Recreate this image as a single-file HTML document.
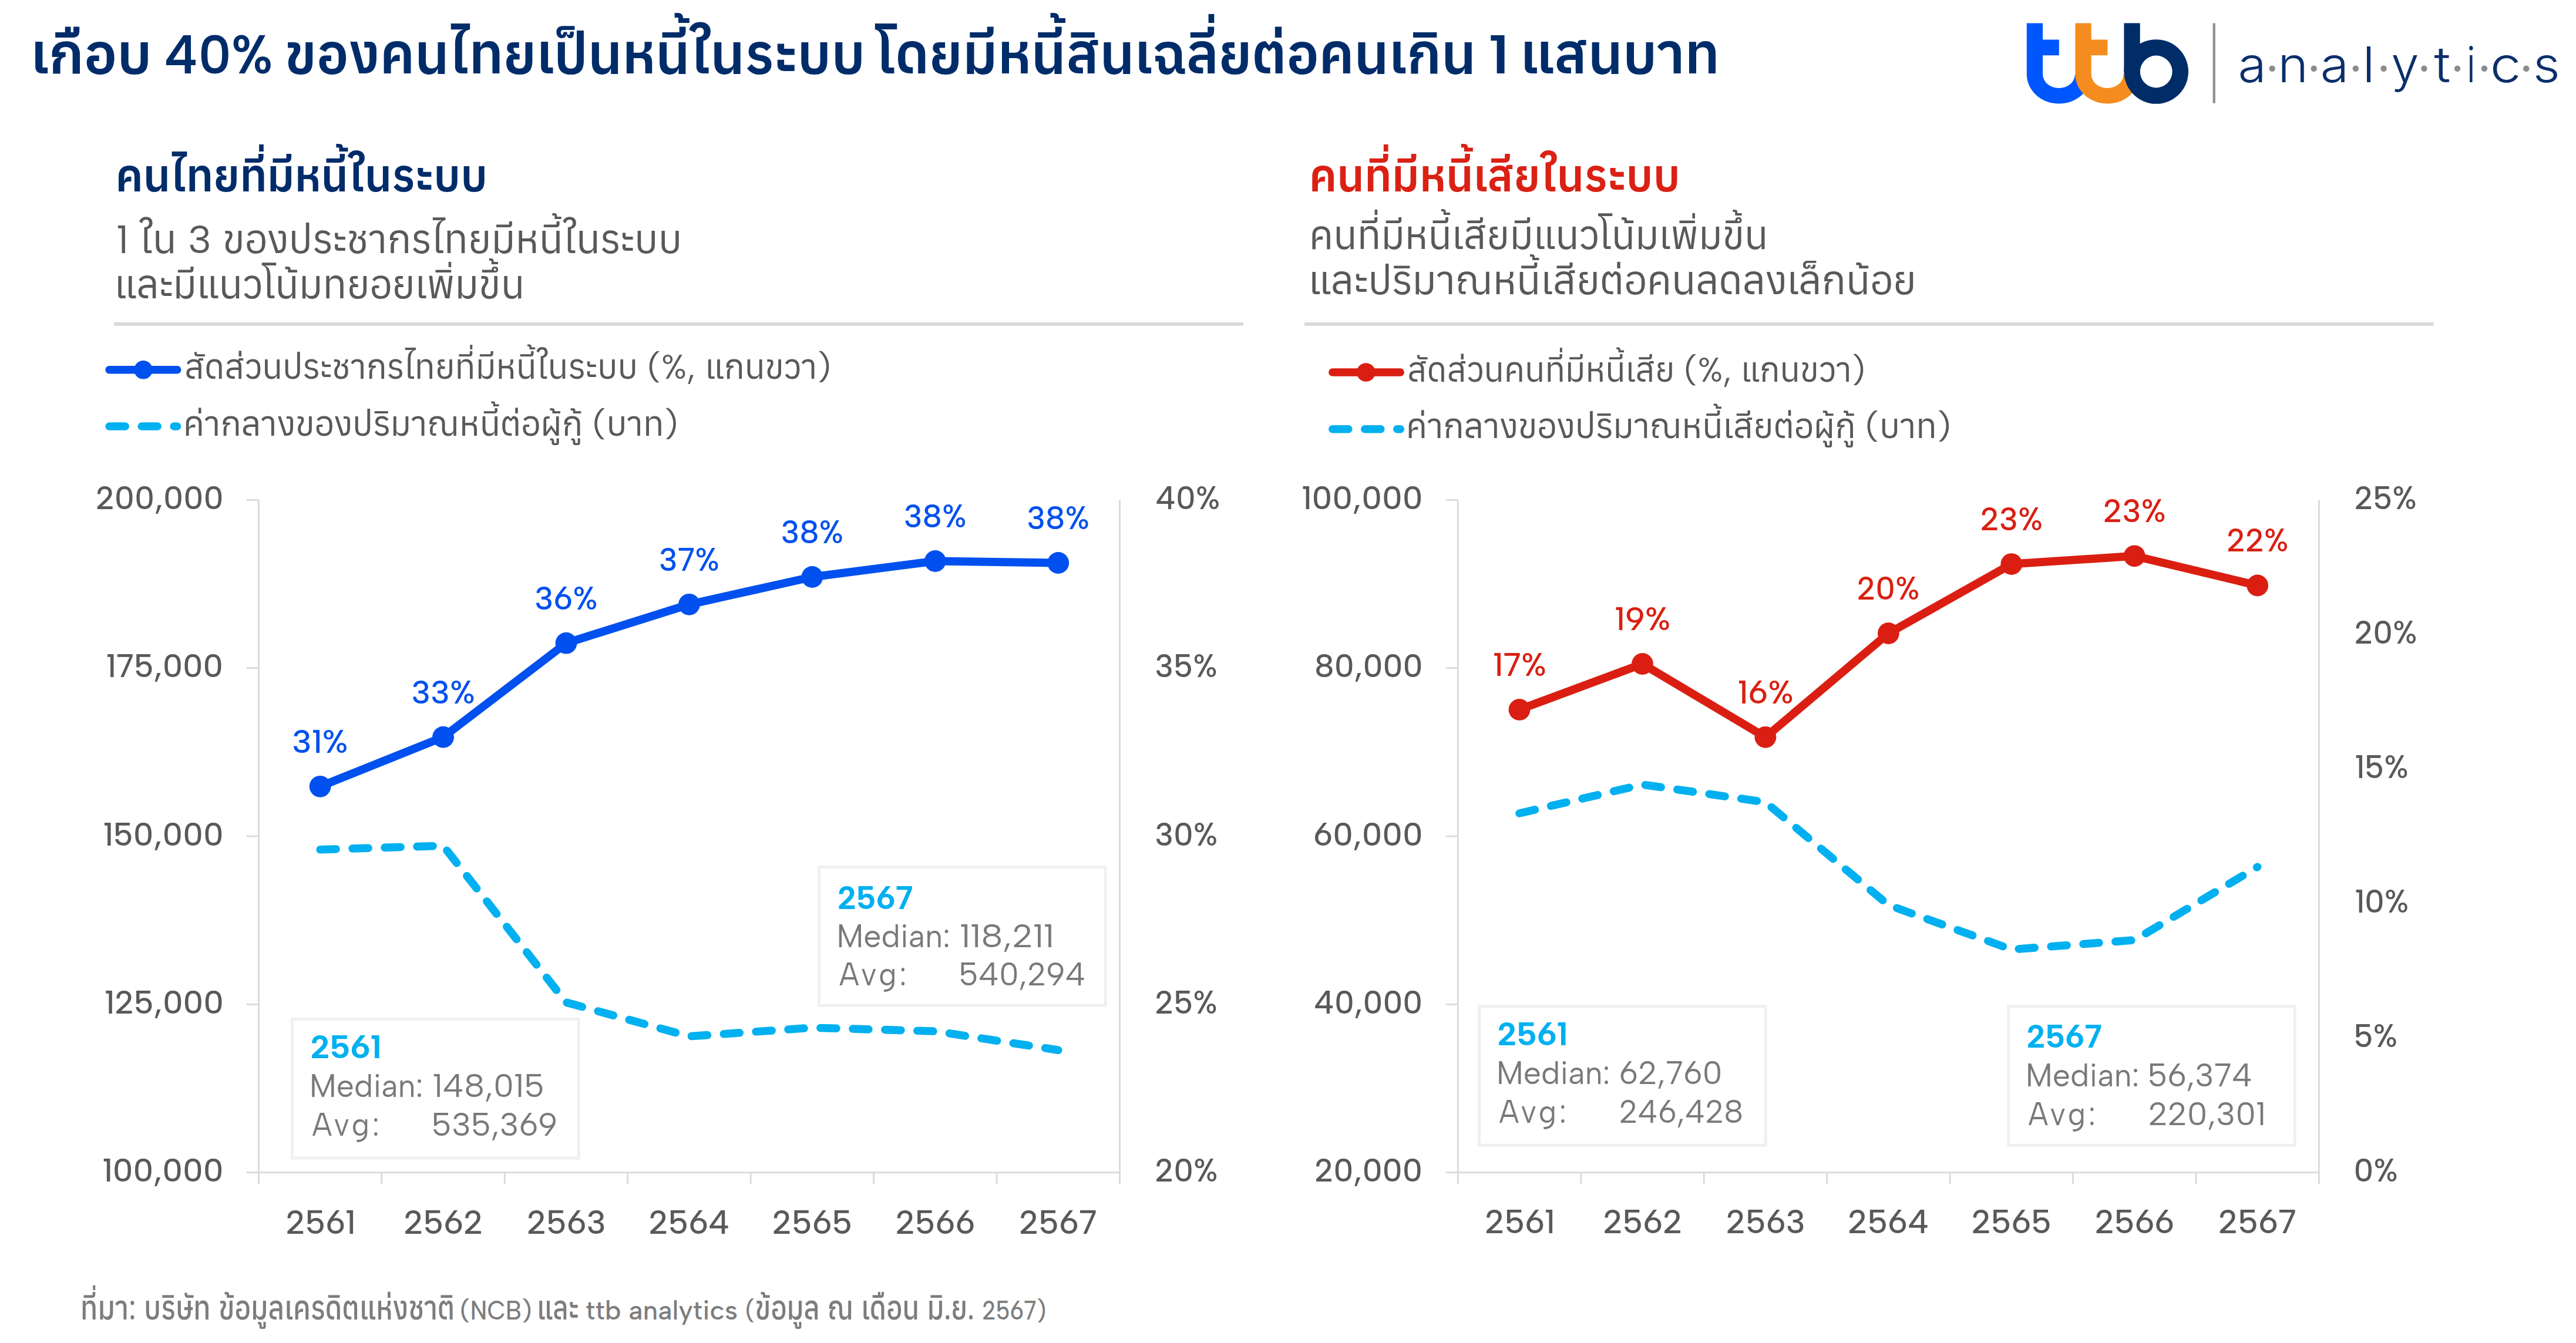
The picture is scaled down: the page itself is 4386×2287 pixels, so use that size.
<!DOCTYPE html>
<html lang="th"><head><meta charset="utf-8"><title>ttb analytics</title>
<style>
html,body{margin:0;padding:0;background:#fff;}
body{width:4386px;height:2287px;position:relative;overflow:hidden;}
.t{position:absolute;white-space:pre;line-height:1;transform-origin:0 0;}
</style></head><body>
<svg width="4386" height="2287" viewBox="0 0 4386 2287" style="position:absolute;left:0;top:0"><rect x="194" y="549" width="1922.80" height="5.8" fill="#d9d9d9"/><rect x="2221" y="549" width="1922.80" height="5.8" fill="#d9d9d9"/><path d="M440.40 851.40V1996.60M419.90 1996.60H1906.50M1906.50 851.40V1996.60M419.90 851.40H440.40M419.90 1137.70H440.40M419.90 1424.00H440.40M419.90 1710.30H440.40M419.90 1996.60H440.40M440.40 1996.60V2016.80M649.84 1996.60V2016.80M859.29 1996.60V2016.80M1068.73 1996.60V2016.80M1278.17 1996.60V2016.80M1487.61 1996.60V2016.80M1697.06 1996.60V2016.80M1906.50 1996.60V2016.80" stroke="#d9d9d9" stroke-width="2.75" fill="none"/><path d="M2482.30 851.40V1996.60M2461.80 1996.60H3948.40M3948.40 851.40V1996.60M2461.80 851.40H2482.30M2461.80 1137.70H2482.30M2461.80 1424.00H2482.30M2461.80 1710.30H2482.30M2461.80 1996.60H2482.30M2482.30 1996.60V2016.80M2691.74 1996.60V2016.80M2901.19 1996.60V2016.80M3110.63 1996.60V2016.80M3320.07 1996.60V2016.80M3529.51 1996.60V2016.80M3738.96 1996.60V2016.80M3948.40 1996.60V2016.80" stroke="#d9d9d9" stroke-width="2.75" fill="none"/><rect x="497.60" y="1735.60" width="487.60" height="236.60" fill="#fff" stroke="#f0f0f0" stroke-width="5"/><rect x="1394.60" y="1476.60" width="487.50" height="235.60" fill="#fff" stroke="#f0f0f0" stroke-width="5"/><rect x="2518.60" y="1713.60" width="487.60" height="236.60" fill="#fff" stroke="#f0f0f0" stroke-width="5"/><rect x="3419.70" y="1713.60" width="487.50" height="236.60" fill="#fff" stroke="#f0f0f0" stroke-width="5"/><polyline points="545.12,1446.80 754.56,1440.20 964.01,1707.00 1173.45,1764.80 1382.89,1750.10 1592.34,1756.10 1801.78,1788.20" fill="none" stroke="#00b0f0" stroke-width="13.6" stroke-dasharray="27 28" stroke-linecap="round" stroke-linejoin="round"/><polyline points="2587.02,1385.00 2796.46,1336.00 3005.91,1366.00 3215.35,1541.20 3424.79,1616.90 3634.24,1600.90 3843.68,1476.30" fill="none" stroke="#00b0f0" stroke-width="13.6" stroke-dasharray="27 28" stroke-linecap="round" stroke-linejoin="round"/><polyline points="545.12,1339.30 754.56,1255.20 964.01,1095.20 1173.45,1029.30 1382.89,982.50 1592.34,955.50 1801.78,958.50" fill="none" stroke="#0050ef" stroke-width="14" stroke-linejoin="round"/><polyline points="2587.02,1208.40 2796.46,1130.50 3005.91,1255.30 3215.35,1078.50 3424.79,960.60 3634.24,946.80 3843.68,997.00" fill="none" stroke="#da1f12" stroke-width="14" stroke-linejoin="round"/><circle cx="545.12" cy="1339.30" r="18.4" fill="#0050ef"/><circle cx="754.56" cy="1255.20" r="18.4" fill="#0050ef"/><circle cx="964.01" cy="1095.20" r="18.4" fill="#0050ef"/><circle cx="1173.45" cy="1029.30" r="18.4" fill="#0050ef"/><circle cx="1382.89" cy="982.50" r="18.4" fill="#0050ef"/><circle cx="1592.34" cy="955.50" r="18.4" fill="#0050ef"/><circle cx="1801.78" cy="958.50" r="18.4" fill="#0050ef"/><circle cx="2587.02" cy="1208.40" r="18.4" fill="#da1f12"/><circle cx="2796.46" cy="1130.50" r="18.4" fill="#da1f12"/><circle cx="3005.91" cy="1255.30" r="18.4" fill="#da1f12"/><circle cx="3215.35" cy="1078.50" r="18.4" fill="#da1f12"/><circle cx="3424.79" cy="960.60" r="18.4" fill="#da1f12"/><circle cx="3634.24" cy="946.80" r="18.4" fill="#da1f12"/><circle cx="3843.68" cy="997.00" r="18.4" fill="#da1f12"/><line x1="186" y1="629.8" x2="301.8" y2="629.8" stroke="#0050ef" stroke-width="13.4" stroke-linecap="round"/><circle cx="244" cy="629.8" r="15.8" fill="#0050ef"/><line x1="186.2" y1="726" x2="301.5" y2="726" stroke="#00b0f0" stroke-width="13.6" stroke-dasharray="27 28" stroke-linecap="round"/><line x1="2268.8" y1="634" x2="2384.2" y2="634" stroke="#da1f12" stroke-width="13.4" stroke-linecap="round"/><circle cx="2325.8" cy="634" r="15.8" fill="#da1f12"/><line x1="2268.8" y1="730.7" x2="2384.2" y2="730.7" stroke="#00b0f0" stroke-width="13.6" stroke-dasharray="27 28" stroke-linecap="round"/><path d="M3450.80 39.4H3478.10V67.4H3505.80V94.2H3478.10V126.60A27.4 23.4 0 0 0 3533.00 126.60H3560.40A54.8 50.0 0 0 1 3450.80 126.60Z" fill="#0057ff"/><path d="M3533.40 39.4H3560.70V67.4H3588.40V94.2H3560.70V126.60A27.4 23.4 0 0 0 3615.60 126.60H3643.00A54.8 50.0 0 0 1 3533.40 126.60Z" fill="#f58c1f"/><rect x="3616.40" y="39.4" width="27.3" height="82.60" fill="#002d67"/><path d="M3616.40 122A54.8 54.8 0 1 0 3726.00 122A54.8 54.8 0 1 0 3616.40 122Z M3643.80 122A27.4 27.4 0 1 1 3698.60 122A27.4 27.4 0 1 1 3643.80 122Z" fill="#002d67" fill-rule="evenodd"/><rect x="3767.6" y="39.4" width="4.3" height="136.4" fill="#8f8f8f"/><circle cx="3868.70" cy="116.8" r="5.2" fill="#8c8c8c"/><circle cx="3939.70" cy="116.8" r="5.2" fill="#8c8c8c"/><circle cx="4010.80" cy="116.8" r="5.2" fill="#8c8c8c"/><circle cx="4058.50" cy="116.8" r="5.2" fill="#8c8c8c"/><circle cx="4127.40" cy="116.8" r="5.2" fill="#8c8c8c"/><circle cx="4184.00" cy="116.8" r="5.2" fill="#8c8c8c"/><circle cx="4229.90" cy="116.8" r="5.2" fill="#8c8c8c"/><circle cx="4301.30" cy="116.8" r="5.2" fill="#8c8c8c"/></svg>
<svg width="4386" height="2287" viewBox="0 0 4386 2287" style="position:absolute;left:0;top:0"><text x="52.30" y="125.00" fill="#002c69" textLength="206.48" lengthAdjust="spacingAndGlyphs" style="font-family:'Albert Sans', 'Anuphan', 'IBM Plex Sans Thai', 'Noto Sans Thai', 'Liberation Sans', 'Noto Sans CJK SC', sans-serif;font-weight:560;font-size:93px;letter-spacing:0px;white-space:pre">เกือบ</text>
<text x="279.86" y="125.00" fill="#002c69" textLength="184.91" lengthAdjust="spacingAndGlyphs" style="font-family:'Albert Sans', 'Anuphan', 'IBM Plex Sans Thai', 'Noto Sans Thai', 'Liberation Sans', 'Noto Sans CJK SC', sans-serif;font-weight:560;font-size:93px;letter-spacing:0px;white-space:pre">40%</text>
<text x="484.96" y="125.00" fill="#002c69" textLength="988.34" lengthAdjust="spacingAndGlyphs" style="font-family:'Albert Sans', 'Anuphan', 'IBM Plex Sans Thai', 'Noto Sans Thai', 'Liberation Sans', 'Noto Sans CJK SC', sans-serif;font-weight:560;font-size:93px;letter-spacing:0px;white-space:pre">ของคนไทยเป็นหนี้ในระบบ</text>
<text x="1489.90" y="125.00" fill="#002c69" textLength="1023.26" lengthAdjust="spacingAndGlyphs" style="font-family:'Albert Sans', 'Anuphan', 'IBM Plex Sans Thai', 'Noto Sans Thai', 'Liberation Sans', 'Noto Sans CJK SC', sans-serif;font-weight:560;font-size:93px;letter-spacing:0px;white-space:pre">โดยมีหนี้สินเฉลี่ยต่อคนเกิน</text>
<text x="2534.16" y="125.00" fill="#002c69" textLength="35.46" lengthAdjust="spacingAndGlyphs" style="font-family:'Albert Sans', 'Anuphan', 'IBM Plex Sans Thai', 'Noto Sans Thai', 'Liberation Sans', 'Noto Sans CJK SC', sans-serif;font-weight:560;font-size:93px;letter-spacing:0px;white-space:pre">1</text>
<text x="2588.54" y="125.00" fill="#002c69" textLength="339.55" lengthAdjust="spacingAndGlyphs" style="font-family:'Albert Sans', 'Anuphan', 'IBM Plex Sans Thai', 'Noto Sans Thai', 'Liberation Sans', 'Noto Sans CJK SC', sans-serif;font-weight:560;font-size:93px;letter-spacing:0px;white-space:pre">แสนบาท</text>
<text x="196.71" y="326.40" fill="#002c69" textLength="633.44" lengthAdjust="spacingAndGlyphs" style="font-family:'Albert Sans', 'Anuphan', 'IBM Plex Sans Thai', 'Noto Sans Thai', 'Liberation Sans', 'Noto Sans CJK SC', sans-serif;font-weight:560;font-size:74.6px;letter-spacing:0px;white-space:pre">คนไทยที่มีหนี้ในระบบ</text>
<text x="2228.99" y="326.40" fill="#da2114" textLength="631.97" lengthAdjust="spacingAndGlyphs" style="font-family:'Albert Sans', 'Anuphan', 'IBM Plex Sans Thai', 'Noto Sans Thai', 'Liberation Sans', 'Noto Sans CJK SC', sans-serif;font-weight:560;font-size:74.6px;letter-spacing:0px;white-space:pre">คนที่มีหนี้เสียในระบบ</text>
<text x="197.96" y="431.10" fill="#595959" textLength="963.40" lengthAdjust="spacingAndGlyphs" style="font-family:'Albert Sans', 'Anuphan', 'IBM Plex Sans Thai', 'Noto Sans Thai', 'Liberation Sans', 'Noto Sans CJK SC', sans-serif;font-weight:440;font-size:66.8px;letter-spacing:0px;white-space:pre">1 ใน 3 ของประชากรไทยมีหนี้ในระบบ</text>
<text x="194.99" y="507.60" fill="#595959" textLength="698.29" lengthAdjust="spacingAndGlyphs" style="font-family:'Albert Sans', 'Anuphan', 'IBM Plex Sans Thai', 'Noto Sans Thai', 'Liberation Sans', 'Noto Sans CJK SC', sans-serif;font-weight:440;font-size:66.8px;letter-spacing:0px;white-space:pre">และมีแนวโน้มทยอยเพิ่มขึ้น</text>
<text x="2229.01" y="424.30" fill="#595959" textLength="781.58" lengthAdjust="spacingAndGlyphs" style="font-family:'Albert Sans', 'Anuphan', 'IBM Plex Sans Thai', 'Noto Sans Thai', 'Liberation Sans', 'Noto Sans CJK SC', sans-serif;font-weight:440;font-size:66.8px;letter-spacing:0px;white-space:pre">คนที่มีหนี้เสียมีแนวโน้มเพิ่มขึ้น</text>
<text x="2227.88" y="500.70" fill="#595959" textLength="1035.05" lengthAdjust="spacingAndGlyphs" style="font-family:'Albert Sans', 'Anuphan', 'IBM Plex Sans Thai', 'Noto Sans Thai', 'Liberation Sans', 'Noto Sans CJK SC', sans-serif;font-weight:440;font-size:66.8px;letter-spacing:0px;white-space:pre">และปริมาณหนี้เสียต่อคนลดลงเล็กน้อย</text>
<text x="313.93" y="645.00" fill="#595959" textLength="1100.91" lengthAdjust="spacingAndGlyphs" style="font-family:'Albert Sans', 'Anuphan', 'IBM Plex Sans Thai', 'Noto Sans Thai', 'Liberation Sans', 'Noto Sans CJK SC', sans-serif;font-weight:430;font-size:58px;letter-spacing:0px;white-space:pre">สัดส่วนประชากรไทยที่มีหนี้ในระบบ (%, แกนขวา)</text>
<text x="311.97" y="742.30" fill="#595959" textLength="842.41" lengthAdjust="spacingAndGlyphs" style="font-family:'Albert Sans', 'Anuphan', 'IBM Plex Sans Thai', 'Noto Sans Thai', 'Liberation Sans', 'Noto Sans CJK SC', sans-serif;font-weight:430;font-size:58px;letter-spacing:0px;white-space:pre">ค่ากลางของปริมาณหนี้ต่อผู้กู้ (บาท)</text>
<text x="2396.06" y="649.70" fill="#595959" textLength="779.79" lengthAdjust="spacingAndGlyphs" style="font-family:'Albert Sans', 'Anuphan', 'IBM Plex Sans Thai', 'Noto Sans Thai', 'Liberation Sans', 'Noto Sans CJK SC', sans-serif;font-weight:430;font-size:58px;letter-spacing:0px;white-space:pre">สัดส่วนคนที่มีหนี้เสีย (%, แกนขวา)</text>
<text x="2393.97" y="745.50" fill="#595959" textLength="927.71" lengthAdjust="spacingAndGlyphs" style="font-family:'Albert Sans', 'Anuphan', 'IBM Plex Sans Thai', 'Noto Sans Thai', 'Liberation Sans', 'Noto Sans CJK SC', sans-serif;font-weight:430;font-size:58px;letter-spacing:0px;white-space:pre">ค่ากลางของปริมาณหนี้เสียต่อผู้กู้ (บาท)</text>
<text x="136.82" y="2247.00" fill="#7d7d7d" textLength="637.66" lengthAdjust="spacingAndGlyphs" style="font-family:'Albert Sans', 'Anuphan', 'IBM Plex Sans Thai', 'Noto Sans Thai', 'Liberation Sans', 'Noto Sans CJK SC', sans-serif;font-weight:520;font-size:56px;letter-spacing:0px;white-space:pre">ที่มา: บริษัท ข้อมูลเครดิตแห่งชาติ</text>
<text x="783.14" y="2247.00" fill="#7d7d7d" textLength="122.17" lengthAdjust="spacingAndGlyphs" style="font-family:'Albert Sans', 'Liberation Sans', 'Anuphan', sans-serif;font-weight:480;font-size:46px;letter-spacing:0px;white-space:pre">(NCB)</text>
<text x="914.29" y="2247.00" fill="#7d7d7d" textLength="71.38" lengthAdjust="spacingAndGlyphs" style="font-family:'Albert Sans', 'Anuphan', 'IBM Plex Sans Thai', 'Noto Sans Thai', 'Liberation Sans', 'Noto Sans CJK SC', sans-serif;font-weight:520;font-size:56px;letter-spacing:0px;white-space:pre">และ</text>
<text x="997.00" y="2247.00" fill="#7d7d7d" textLength="259.12" lengthAdjust="spacingAndGlyphs" style="font-family:'Albert Sans', 'Liberation Sans', 'Anuphan', sans-serif;font-weight:480;font-size:46px;letter-spacing:0px;white-space:pre">ttb analytics</text>
<text x="1269.07" y="2247.00" fill="#7d7d7d" textLength="512.08" lengthAdjust="spacingAndGlyphs" style="font-family:'Albert Sans', 'Anuphan', 'IBM Plex Sans Thai', 'Noto Sans Thai', 'Liberation Sans', 'Noto Sans CJK SC', sans-serif;font-weight:520;font-size:56px;letter-spacing:0px;white-space:pre"><tspan style="font-size:46px;font-family:Albert Sans">(</tspan>ข้อมูล ณ เดือน มิ.ย. <tspan style="font-size:46px;font-family:Albert Sans">2567)</tspan></text>
<text x="162.70" y="867.00" fill="#595959" textLength="217.87" lengthAdjust="spacingAndGlyphs" style="font-family:'Albert Sans', 'Liberation Sans', 'Anuphan', sans-serif;font-weight:500;font-size:55.7px;letter-spacing:0px;white-space:pre">200,000</text>
<text x="180.75" y="1153.30" fill="#595959" textLength="199.21" lengthAdjust="spacingAndGlyphs" style="font-family:'Albert Sans', 'Liberation Sans', 'Anuphan', sans-serif;font-weight:500;font-size:55.7px;letter-spacing:0px;white-space:pre">175,000</text>
<text x="175.74" y="1439.60" fill="#595959" textLength="204.80" lengthAdjust="spacingAndGlyphs" style="font-family:'Albert Sans', 'Liberation Sans', 'Anuphan', sans-serif;font-weight:500;font-size:55.7px;letter-spacing:0px;white-space:pre">150,000</text>
<text x="178.04" y="1725.90" fill="#595959" textLength="202.92" lengthAdjust="spacingAndGlyphs" style="font-family:'Albert Sans', 'Liberation Sans', 'Anuphan', sans-serif;font-weight:500;font-size:55.7px;letter-spacing:0px;white-space:pre">125,000</text>
<text x="174.53" y="2012.20" fill="#595959" textLength="206.07" lengthAdjust="spacingAndGlyphs" style="font-family:'Albert Sans', 'Liberation Sans', 'Anuphan', sans-serif;font-weight:500;font-size:55.7px;letter-spacing:0px;white-space:pre">100,000</text>
<text x="1967.29" y="867.00" fill="#595959" textLength="110.15" lengthAdjust="spacingAndGlyphs" style="font-family:'Albert Sans', 'Liberation Sans', 'Anuphan', sans-serif;font-weight:500;font-size:55.7px;letter-spacing:0px;white-space:pre">40%</text>
<text x="1966.34" y="1153.30" fill="#595959" textLength="106.48" lengthAdjust="spacingAndGlyphs" style="font-family:'Albert Sans', 'Liberation Sans', 'Anuphan', sans-serif;font-weight:500;font-size:55.7px;letter-spacing:0px;white-space:pre">35%</text>
<text x="1966.34" y="1439.60" fill="#595959" textLength="107.11" lengthAdjust="spacingAndGlyphs" style="font-family:'Albert Sans', 'Liberation Sans', 'Anuphan', sans-serif;font-weight:500;font-size:55.7px;letter-spacing:0px;white-space:pre">30%</text>
<text x="1966.34" y="1725.90" fill="#595959" textLength="106.53" lengthAdjust="spacingAndGlyphs" style="font-family:'Albert Sans', 'Liberation Sans', 'Anuphan', sans-serif;font-weight:500;font-size:55.7px;letter-spacing:0px;white-space:pre">25%</text>
<text x="1966.34" y="2012.20" fill="#595959" textLength="107.17" lengthAdjust="spacingAndGlyphs" style="font-family:'Albert Sans', 'Liberation Sans', 'Anuphan', sans-serif;font-weight:500;font-size:55.7px;letter-spacing:0px;white-space:pre">20%</text>
<text x="2216.33" y="867.00" fill="#595959" textLength="206.07" lengthAdjust="spacingAndGlyphs" style="font-family:'Albert Sans', 'Liberation Sans', 'Anuphan', sans-serif;font-weight:500;font-size:55.7px;letter-spacing:0px;white-space:pre">100,000</text>
<text x="2238.11" y="1153.30" fill="#595959" textLength="184.54" lengthAdjust="spacingAndGlyphs" style="font-family:'Albert Sans', 'Liberation Sans', 'Anuphan', sans-serif;font-weight:500;font-size:55.7px;letter-spacing:0px;white-space:pre">80,000</text>
<text x="2236.07" y="1439.60" fill="#595959" textLength="186.48" lengthAdjust="spacingAndGlyphs" style="font-family:'Albert Sans', 'Liberation Sans', 'Anuphan', sans-serif;font-weight:500;font-size:55.7px;letter-spacing:0px;white-space:pre">60,000</text>
<text x="2237.09" y="1725.90" fill="#595959" textLength="185.03" lengthAdjust="spacingAndGlyphs" style="font-family:'Albert Sans', 'Liberation Sans', 'Anuphan', sans-serif;font-weight:500;font-size:55.7px;letter-spacing:0px;white-space:pre">40,000</text>
<text x="2238.10" y="2012.20" fill="#595959" textLength="183.93" lengthAdjust="spacingAndGlyphs" style="font-family:'Albert Sans', 'Liberation Sans', 'Anuphan', sans-serif;font-weight:500;font-size:55.7px;letter-spacing:0px;white-space:pre">20,000</text>
<text x="4008.44" y="867.00" fill="#595959" textLength="106.53" lengthAdjust="spacingAndGlyphs" style="font-family:'Albert Sans', 'Liberation Sans', 'Anuphan', sans-serif;font-weight:500;font-size:55.7px;letter-spacing:0px;white-space:pre">25%</text>
<text x="4008.44" y="1096.04" fill="#595959" textLength="107.17" lengthAdjust="spacingAndGlyphs" style="font-family:'Albert Sans', 'Liberation Sans', 'Anuphan', sans-serif;font-weight:500;font-size:55.7px;letter-spacing:0px;white-space:pre">20%</text>
<text x="4009.39" y="1325.08" fill="#595959" textLength="91.43" lengthAdjust="spacingAndGlyphs" style="font-family:'Albert Sans', 'Liberation Sans', 'Anuphan', sans-serif;font-weight:500;font-size:55.7px;letter-spacing:0px;white-space:pre">15%</text>
<text x="4009.39" y="1554.12" fill="#595959" textLength="92.07" lengthAdjust="spacingAndGlyphs" style="font-family:'Albert Sans', 'Liberation Sans', 'Anuphan', sans-serif;font-weight:500;font-size:55.7px;letter-spacing:0px;white-space:pre">10%</text>
<text x="4007.48" y="1783.16" fill="#595959" textLength="74.73" lengthAdjust="spacingAndGlyphs" style="font-family:'Albert Sans', 'Liberation Sans', 'Anuphan', sans-serif;font-weight:500;font-size:55.7px;letter-spacing:0px;white-space:pre">5%</text>
<text x="4007.48" y="2012.20" fill="#595959" textLength="75.37" lengthAdjust="spacingAndGlyphs" style="font-family:'Albert Sans', 'Liberation Sans', 'Anuphan', sans-serif;font-weight:500;font-size:55.7px;letter-spacing:0px;white-space:pre">0%</text>
<text x="486.22" y="2101.00" fill="#595959" textLength="119.39" lengthAdjust="spacingAndGlyphs" style="font-family:'Albert Sans', 'Liberation Sans', 'Anuphan', sans-serif;font-weight:500;font-size:56.3px;letter-spacing:0px;white-space:pre">2561</text>
<text x="687.24" y="2101.00" fill="#595959" textLength="135.21" lengthAdjust="spacingAndGlyphs" style="font-family:'Albert Sans', 'Liberation Sans', 'Anuphan', sans-serif;font-weight:500;font-size:56.3px;letter-spacing:0px;white-space:pre">2562</text>
<text x="896.69" y="2101.00" fill="#595959" textLength="135.17" lengthAdjust="spacingAndGlyphs" style="font-family:'Albert Sans', 'Liberation Sans', 'Anuphan', sans-serif;font-weight:500;font-size:56.3px;letter-spacing:0px;white-space:pre">2563</text>
<text x="1104.15" y="2101.00" fill="#595959" textLength="138.34" lengthAdjust="spacingAndGlyphs" style="font-family:'Albert Sans', 'Liberation Sans', 'Anuphan', sans-serif;font-weight:500;font-size:56.3px;letter-spacing:0px;white-space:pre">2564</text>
<text x="1314.58" y="2101.00" fill="#595959" textLength="136.60" lengthAdjust="spacingAndGlyphs" style="font-family:'Albert Sans', 'Liberation Sans', 'Anuphan', sans-serif;font-weight:500;font-size:56.3px;letter-spacing:0px;white-space:pre">2565</text>
<text x="1524.52" y="2101.00" fill="#595959" textLength="135.72" lengthAdjust="spacingAndGlyphs" style="font-family:'Albert Sans', 'Liberation Sans', 'Anuphan', sans-serif;font-weight:500;font-size:56.3px;letter-spacing:0px;white-space:pre">2566</text>
<text x="1734.95" y="2101.00" fill="#595959" textLength="132.94" lengthAdjust="spacingAndGlyphs" style="font-family:'Albert Sans', 'Liberation Sans', 'Anuphan', sans-serif;font-weight:500;font-size:56.3px;letter-spacing:0px;white-space:pre">2567</text>
<text x="2528.12" y="2099.50" fill="#595959" textLength="119.39" lengthAdjust="spacingAndGlyphs" style="font-family:'Albert Sans', 'Liberation Sans', 'Anuphan', sans-serif;font-weight:500;font-size:56.3px;letter-spacing:0px;white-space:pre">2561</text>
<text x="2729.14" y="2099.50" fill="#595959" textLength="135.21" lengthAdjust="spacingAndGlyphs" style="font-family:'Albert Sans', 'Liberation Sans', 'Anuphan', sans-serif;font-weight:500;font-size:56.3px;letter-spacing:0px;white-space:pre">2562</text>
<text x="2938.59" y="2099.50" fill="#595959" textLength="135.17" lengthAdjust="spacingAndGlyphs" style="font-family:'Albert Sans', 'Liberation Sans', 'Anuphan', sans-serif;font-weight:500;font-size:56.3px;letter-spacing:0px;white-space:pre">2563</text>
<text x="3146.05" y="2099.50" fill="#595959" textLength="138.34" lengthAdjust="spacingAndGlyphs" style="font-family:'Albert Sans', 'Liberation Sans', 'Anuphan', sans-serif;font-weight:500;font-size:56.3px;letter-spacing:0px;white-space:pre">2564</text>
<text x="3356.48" y="2099.50" fill="#595959" textLength="136.60" lengthAdjust="spacingAndGlyphs" style="font-family:'Albert Sans', 'Liberation Sans', 'Anuphan', sans-serif;font-weight:500;font-size:56.3px;letter-spacing:0px;white-space:pre">2565</text>
<text x="3566.42" y="2099.50" fill="#595959" textLength="135.72" lengthAdjust="spacingAndGlyphs" style="font-family:'Albert Sans', 'Liberation Sans', 'Anuphan', sans-serif;font-weight:500;font-size:56.3px;letter-spacing:0px;white-space:pre">2566</text>
<text x="3776.85" y="2099.50" fill="#595959" textLength="132.94" lengthAdjust="spacingAndGlyphs" style="font-family:'Albert Sans', 'Liberation Sans', 'Anuphan', sans-serif;font-weight:500;font-size:56.3px;letter-spacing:0px;white-space:pre">2567</text>
<text x="497.03" y="1281.90" fill="#0050ef" textLength="95.45" lengthAdjust="spacingAndGlyphs" style="font-family:'Albert Sans', 'Liberation Sans', 'Anuphan', sans-serif;font-weight:480;font-size:55.7px;letter-spacing:0px;white-space:pre">31%</text>
<text x="700.25" y="1197.80" fill="#0050ef" textLength="108.67" lengthAdjust="spacingAndGlyphs" style="font-family:'Albert Sans', 'Liberation Sans', 'Anuphan', sans-serif;font-weight:480;font-size:55.7px;letter-spacing:0px;white-space:pre">33%</text>
<text x="909.99" y="1037.80" fill="#0050ef" textLength="107.66" lengthAdjust="spacingAndGlyphs" style="font-family:'Albert Sans', 'Liberation Sans', 'Anuphan', sans-serif;font-weight:480;font-size:55.7px;letter-spacing:0px;white-space:pre">36%</text>
<text x="1121.67" y="971.90" fill="#0050ef" textLength="103.37" lengthAdjust="spacingAndGlyphs" style="font-family:'Albert Sans', 'Liberation Sans', 'Anuphan', sans-serif;font-weight:480;font-size:55.7px;letter-spacing:0px;white-space:pre">37%</text>
<text x="1329.38" y="925.10" fill="#0050ef" textLength="106.81" lengthAdjust="spacingAndGlyphs" style="font-family:'Albert Sans', 'Liberation Sans', 'Anuphan', sans-serif;font-weight:480;font-size:55.7px;letter-spacing:0px;white-space:pre">38%</text>
<text x="1538.82" y="898.10" fill="#0050ef" textLength="106.81" lengthAdjust="spacingAndGlyphs" style="font-family:'Albert Sans', 'Liberation Sans', 'Anuphan', sans-serif;font-weight:480;font-size:55.7px;letter-spacing:0px;white-space:pre">38%</text>
<text x="1748.31" y="901.10" fill="#0050ef" textLength="106.70" lengthAdjust="spacingAndGlyphs" style="font-family:'Albert Sans', 'Liberation Sans', 'Anuphan', sans-serif;font-weight:480;font-size:55.7px;letter-spacing:0px;white-space:pre">38%</text>
<text x="2542.10" y="1150.80" fill="#da1f12" textLength="90.90" lengthAdjust="spacingAndGlyphs" style="font-family:'Albert Sans', 'Liberation Sans', 'Anuphan', sans-serif;font-weight:480;font-size:55.7px;letter-spacing:0px;white-space:pre">17%</text>
<text x="2749.36" y="1072.90" fill="#da1f12" textLength="95.05" lengthAdjust="spacingAndGlyphs" style="font-family:'Albert Sans', 'Liberation Sans', 'Anuphan', sans-serif;font-weight:480;font-size:55.7px;letter-spacing:0px;white-space:pre">19%</text>
<text x="2958.80" y="1197.70" fill="#da1f12" textLength="95.05" lengthAdjust="spacingAndGlyphs" style="font-family:'Albert Sans', 'Liberation Sans', 'Anuphan', sans-serif;font-weight:480;font-size:55.7px;letter-spacing:0px;white-space:pre">16%</text>
<text x="3161.54" y="1020.90" fill="#da1f12" textLength="106.87" lengthAdjust="spacingAndGlyphs" style="font-family:'Albert Sans', 'Liberation Sans', 'Anuphan', sans-serif;font-weight:480;font-size:55.7px;letter-spacing:0px;white-space:pre">20%</text>
<text x="3371.38" y="903.00" fill="#da1f12" textLength="106.93" lengthAdjust="spacingAndGlyphs" style="font-family:'Albert Sans', 'Liberation Sans', 'Anuphan', sans-serif;font-weight:480;font-size:55.7px;letter-spacing:0px;white-space:pre">23%</text>
<text x="3580.82" y="889.20" fill="#da1f12" textLength="106.93" lengthAdjust="spacingAndGlyphs" style="font-family:'Albert Sans', 'Liberation Sans', 'Anuphan', sans-serif;font-weight:480;font-size:55.7px;letter-spacing:0px;white-space:pre">23%</text>
<text x="3791.01" y="939.40" fill="#da1f12" textLength="105.50" lengthAdjust="spacingAndGlyphs" style="font-family:'Albert Sans', 'Liberation Sans', 'Anuphan', sans-serif;font-weight:480;font-size:55.7px;letter-spacing:0px;white-space:pre">22%</text>
<text x="528.47" y="1802.40" fill="#00b0f0" textLength="120.90" lengthAdjust="spacingAndGlyphs" style="font-family:'Albert Sans', 'Liberation Sans', 'Anuphan', sans-serif;font-weight:750;font-size:55.7px;letter-spacing:0px;white-space:pre">2561</text>
<text x="526.64" y="1868.40" fill="#7a7878" textLength="193.96" lengthAdjust="spacingAndGlyphs" style="font-family:'Albert Sans', 'Liberation Sans', 'Anuphan', sans-serif;font-weight:450;font-size:55px;letter-spacing:0px;white-space:pre">Median:</text>
<text x="736.57" y="1868.40" fill="#7a7878" textLength="190.37" lengthAdjust="spacingAndGlyphs" style="font-family:'Albert Sans', 'Liberation Sans', 'Anuphan', sans-serif;font-weight:450;font-size:55px;letter-spacing:0px;white-space:pre">148,015</text>
<text x="531.59" y="1933.60" fill="#7a7878" textLength="118.89" lengthAdjust="spacingAndGlyphs" style="font-family:'Albert Sans', 'Liberation Sans', 'Anuphan', sans-serif;font-weight:450;font-size:55px;letter-spacing:5px;white-space:pre">Avg:</text>
<text x="734.61" y="1933.60" fill="#7a7878" textLength="214.64" lengthAdjust="spacingAndGlyphs" style="font-family:'Albert Sans', 'Liberation Sans', 'Anuphan', sans-serif;font-weight:450;font-size:55px;letter-spacing:0px;white-space:pre">535,369</text>
<text x="1426.08" y="1547.80" fill="#00b0f0" textLength="128.41" lengthAdjust="spacingAndGlyphs" style="font-family:'Albert Sans', 'Liberation Sans', 'Anuphan', sans-serif;font-weight:750;font-size:55.7px;letter-spacing:0px;white-space:pre">2567</text>
<text x="1424.14" y="1613.40" fill="#7a7878" textLength="193.96" lengthAdjust="spacingAndGlyphs" style="font-family:'Albert Sans', 'Liberation Sans', 'Anuphan', sans-serif;font-weight:450;font-size:55px;letter-spacing:0px;white-space:pre">Median:</text>
<text x="1634.05" y="1613.40" fill="#7a7878" textLength="160.75" lengthAdjust="spacingAndGlyphs" style="font-family:'Albert Sans', 'Liberation Sans', 'Anuphan', sans-serif;font-weight:450;font-size:55px;letter-spacing:0px;white-space:pre">118,211</text>
<text x="1429.09" y="1678.40" fill="#7a7878" textLength="118.89" lengthAdjust="spacingAndGlyphs" style="font-family:'Albert Sans', 'Liberation Sans', 'Anuphan', sans-serif;font-weight:450;font-size:55px;letter-spacing:5px;white-space:pre">Avg:</text>
<text x="1632.29" y="1678.40" fill="#7a7878" textLength="216.43" lengthAdjust="spacingAndGlyphs" style="font-family:'Albert Sans', 'Liberation Sans', 'Anuphan', sans-serif;font-weight:450;font-size:55px;letter-spacing:0px;white-space:pre">540,294</text>
<text x="2549.50" y="1780.30" fill="#00b0f0" textLength="119.84" lengthAdjust="spacingAndGlyphs" style="font-family:'Albert Sans', 'Liberation Sans', 'Anuphan', sans-serif;font-weight:750;font-size:55.7px;letter-spacing:0px;white-space:pre">2561</text>
<text x="2547.64" y="1845.70" fill="#7a7878" textLength="193.96" lengthAdjust="spacingAndGlyphs" style="font-family:'Albert Sans', 'Liberation Sans', 'Anuphan', sans-serif;font-weight:450;font-size:55px;letter-spacing:0px;white-space:pre">Median:</text>
<text x="2756.44" y="1845.70" fill="#7a7878" textLength="176.15" lengthAdjust="spacingAndGlyphs" style="font-family:'Albert Sans', 'Liberation Sans', 'Anuphan', sans-serif;font-weight:450;font-size:55px;letter-spacing:0px;white-space:pre">62,760</text>
<text x="2552.59" y="1912.00" fill="#7a7878" textLength="118.89" lengthAdjust="spacingAndGlyphs" style="font-family:'Albert Sans', 'Liberation Sans', 'Anuphan', sans-serif;font-weight:450;font-size:55px;letter-spacing:5px;white-space:pre">Avg:</text>
<text x="2756.51" y="1912.00" fill="#7a7878" textLength="212.05" lengthAdjust="spacingAndGlyphs" style="font-family:'Albert Sans', 'Liberation Sans', 'Anuphan', sans-serif;font-weight:450;font-size:55px;letter-spacing:0px;white-space:pre">246,428</text>
<text x="3450.58" y="1784.40" fill="#00b0f0" textLength="128.51" lengthAdjust="spacingAndGlyphs" style="font-family:'Albert Sans', 'Liberation Sans', 'Anuphan', sans-serif;font-weight:750;font-size:55.7px;letter-spacing:0px;white-space:pre">2567</text>
<text x="3448.64" y="1849.80" fill="#7a7878" textLength="193.96" lengthAdjust="spacingAndGlyphs" style="font-family:'Albert Sans', 'Liberation Sans', 'Anuphan', sans-serif;font-weight:450;font-size:55px;letter-spacing:0px;white-space:pre">Median:</text>
<text x="3656.46" y="1849.80" fill="#7a7878" textLength="178.84" lengthAdjust="spacingAndGlyphs" style="font-family:'Albert Sans', 'Liberation Sans', 'Anuphan', sans-serif;font-weight:450;font-size:55px;letter-spacing:0px;white-space:pre">56,374</text>
<text x="3453.59" y="1915.60" fill="#7a7878" textLength="118.89" lengthAdjust="spacingAndGlyphs" style="font-family:'Albert Sans', 'Liberation Sans', 'Anuphan', sans-serif;font-weight:450;font-size:55px;letter-spacing:5px;white-space:pre">Avg:</text>
<text x="3657.39" y="1915.60" fill="#7a7878" textLength="200.44" lengthAdjust="spacingAndGlyphs" style="font-family:'Albert Sans', 'Liberation Sans', 'Anuphan', sans-serif;font-weight:450;font-size:55px;letter-spacing:0px;white-space:pre">220,301</text>
<text x="3810.42" y="139.80" fill="#0b2f6b" textLength="48.27" lengthAdjust="spacingAndGlyphs" style="font-family:'Inter', 'Liberation Sans', sans-serif;font-weight:340;font-size:84px;letter-spacing:0px;white-space:pre">a</text>
<text x="3878.26" y="139.80" fill="#0b2f6b" textLength="51.84" lengthAdjust="spacingAndGlyphs" style="font-family:'Inter', 'Liberation Sans', sans-serif;font-weight:340;font-size:84px;letter-spacing:0px;white-space:pre">n</text>
<text x="3950.71" y="139.80" fill="#0b2f6b" textLength="48.40" lengthAdjust="spacingAndGlyphs" style="font-family:'Inter', 'Liberation Sans', sans-serif;font-weight:340;font-size:84px;letter-spacing:0px;white-space:pre">a</text>
<text x="4022.30" y="139.80" fill="#0b2f6b" textLength="21.57" lengthAdjust="spacingAndGlyphs" style="font-family:'Inter', 'Liberation Sans', sans-serif;font-weight:340;font-size:84px;letter-spacing:0px;white-space:pre">l</text>
<text x="4071.36" y="139.80" fill="#0b2f6b" textLength="47.40" lengthAdjust="spacingAndGlyphs" style="font-family:'Inter', 'Liberation Sans', sans-serif;font-weight:340;font-size:84px;letter-spacing:0px;white-space:pre">y</text>
<text x="4144.28" y="139.80" fill="#0b2f6b" textLength="28.14" lengthAdjust="spacingAndGlyphs" style="font-family:'Inter', 'Liberation Sans', sans-serif;font-weight:340;font-size:84px;letter-spacing:0px;white-space:pre">t</text>
<text x="4199.60" y="139.80" fill="#0b2f6b" textLength="15.69" lengthAdjust="spacingAndGlyphs" style="font-family:'Inter', 'Liberation Sans', sans-serif;font-weight:340;font-size:84px;letter-spacing:0px;white-space:pre">i</text>
<text x="4239.69" y="139.80" fill="#0b2f6b" textLength="52.68" lengthAdjust="spacingAndGlyphs" style="font-family:'Inter', 'Liberation Sans', sans-serif;font-weight:340;font-size:84px;letter-spacing:0px;white-space:pre">c</text>
<text x="4312.79" y="139.80" fill="#0b2f6b" textLength="46.04" lengthAdjust="spacingAndGlyphs" style="font-family:'Inter', 'Liberation Sans', sans-serif;font-weight:340;font-size:84px;letter-spacing:0px;white-space:pre">s</text></svg>
</body></html>
